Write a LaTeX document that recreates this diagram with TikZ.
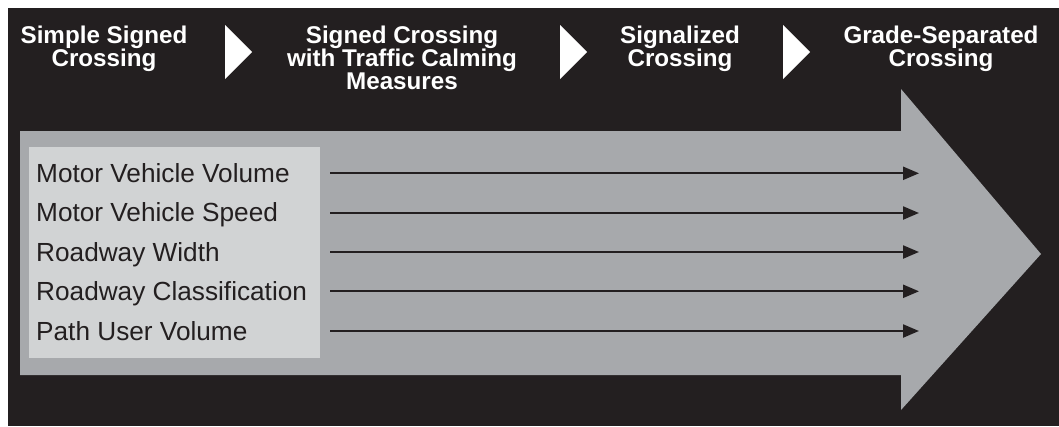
\documentclass[tikz,border=0pt]{standalone}
\usepackage{fontspec}
\setmainfont{Liberation Sans}
\usetikzlibrary{arrows.meta}
\definecolor{bgdark}{HTML}{231F20}
\definecolor{arrowgrey}{HTML}{A7A9AC}
\definecolor{boxgrey}{HTML}{D1D3D4}
\tikzset{
  head/.style={text=white, font=\bfseries\fontsize{24.2}{23}\selectfont, align=center, anchor=north, inner sep=0pt},
  chev/.style={fill=white, draw=none},
  factor/.style={text=bgdark, font=\fontsize{26.2}{30}\selectfont, anchor=base west, inner sep=0pt},
  flow/.style={draw=bgdark, line width=2.2pt, -{Triangle[length=16pt,width=13pt]}},
}
\begin{document}
\begin{tikzpicture}[x=1pt,y=-1pt]
\useasboundingbox (0,0) rectangle (1059,426);
\fill[white] (0,0) rectangle (1059,426);
\fill[bgdark] (8,8) rectangle (1059,426);
% big arrow
\fill[arrowgrey] (20,131) -- (901,131) -- (901,89) -- (1041,254) -- (901,410) -- (901,375) -- (20,375) -- cycle;
% light box
\fill[boxgrey] (29,147) rectangle (320,358);
% chevrons
\fill[chev] (225,25) -- (252,52) -- (225,79) -- cycle;
\fill[chev] (560,25) -- (587,52) -- (560,79) -- cycle;
\fill[chev] (783,25) -- (810,52) -- (783,79) -- cycle;
% headings
\node[head] (h1) at (104,26) {Simple Signed\\Crossing};
\node[head] (h2) at (402,26) {Signed Crossing\\with Traffic Calming\\Measures};
\node[head] (h3) at (680,26) {Signalized\\Crossing};
\node[head] (h4) at (941,26) {Grade-Separated\\Crossing};
% factors
\node[factor] (f1) at (36,182) {Motor Vehicle Volume};
\node[factor] (f2) at (36,221.5) {Motor Vehicle Speed};
\node[factor] (f3) at (36,261) {Roadway Width};
\node[factor] (f4) at (36,300.5) {Roadway Classification};
\node[factor] (f5) at (36,340) {Path User Volume};
% arrows
\foreach \i/\y in {1/173.3,2/213,3/252,4/291.3,5/331}{
  \coordinate (s\i) at (330,\y);
  \coordinate (e\i) at (919,\y);
  \draw[flow] (s\i) -- (e\i);
}
\end{tikzpicture}
\end{document}
